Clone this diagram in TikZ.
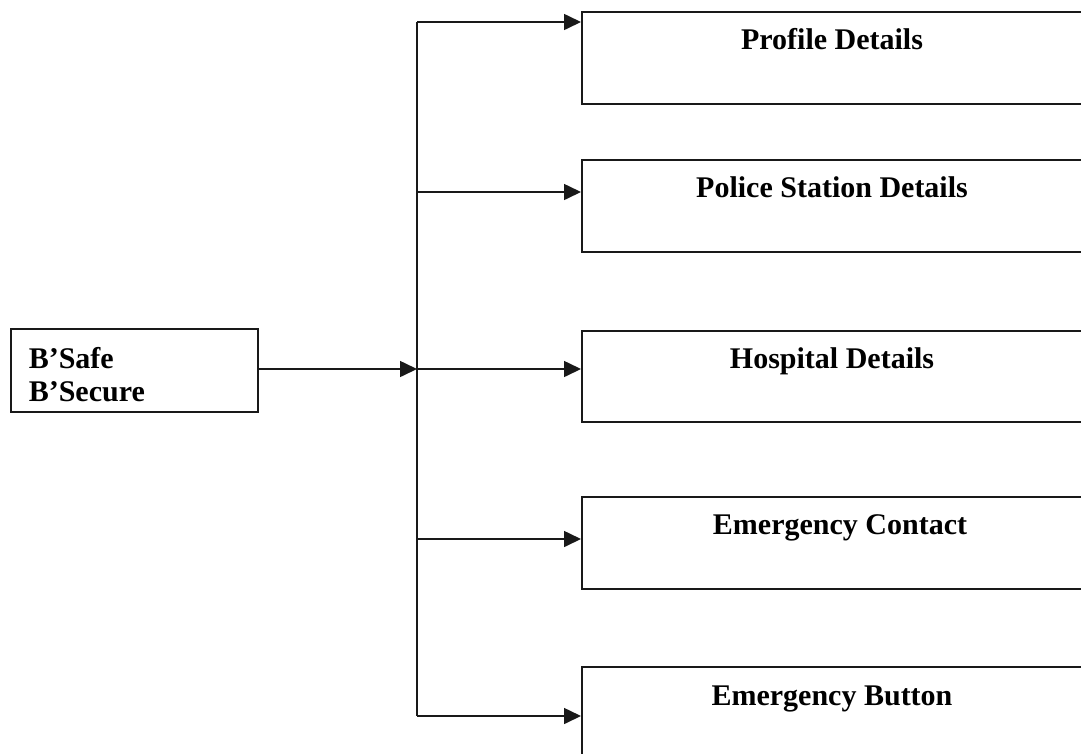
\documentclass[tikz,border=0pt]{standalone}
\usepackage{fontspec}
\setmainfont{Liberation Serif}
\usetikzlibrary{arrows.meta}
\begin{document}
\begin{tikzpicture}[x=1pt,y=-1pt,
  line width=1.6pt,
  frame/.style={draw=black!90,line width=1.6pt,inner sep=0pt,anchor=north west},
  caption/.style={font=\bfseries\fontsize{30}{36}\selectfont,inner sep=0pt},
  feed/.style={-{Triangle[length=17pt,width=16pt]},draw=black!90}]
\useasboundingbox (0,0) rectangle (1081,753);
\clip (0,0) rectangle (1081,753);

% source block
\node[frame,minimum width=247pt,minimum height=83pt] (src) at (10,328) {};
\node[caption,anchor=base west] (srcA) at (28,368) {B’Safe};
\node[caption,anchor=base west] (srcB) at (28,401) {B’Secure};

% module blocks (open to the right edge)
\node[frame,minimum width=530pt,minimum height=92pt] (b1) at (581,11) {};
\node[frame,minimum width=530pt,minimum height=92pt] (b2) at (581,159) {};
\node[frame,minimum width=530pt,minimum height=91pt] (b3) at (581,330) {};
\node[frame,minimum width=530pt,minimum height=92pt] (b4) at (581,496) {};
\node[frame,minimum width=530pt,minimum height=92pt] (b5) at (581,666) {};

\node[caption,anchor=base] (t1) at (832,49) {Profile Details};
\node[caption,anchor=base] (t2) at (832,197) {Police Station Details};
\node[caption,anchor=base] (t3) at (832,368) {Hospital Details};
\node[caption,anchor=base] (t4) at (840,534) {Emergency Contact};
\node[caption,anchor=base] (t5) at (832,705) {Emergency Button};

% distribution spine
\coordinate (s1) at (417,22);
\coordinate (s2) at (417,192);
\coordinate (s3) at (417,369);
\coordinate (s4) at (417,539);
\coordinate (s5) at (417,716);

\draw[draw=black!90] (s1) -- (s5);
\draw[feed] (src.east |- s3) -- (s3);
\draw[feed] (s1) -- (s1 -| b1.west);
\draw[feed] (s2) -- (s2 -| b2.west);
\draw[feed] (s3) -- (s3 -| b3.west);
\draw[feed] (s4) -- (s4 -| b4.west);
\draw[feed] (s5) -- (s5 -| b5.west);
\end{tikzpicture}
\end{document}
